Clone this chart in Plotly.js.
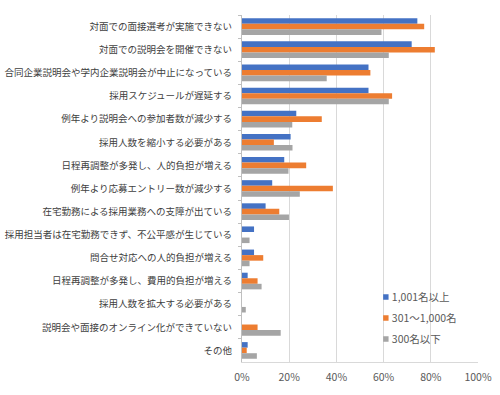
<!DOCTYPE html>
<html><head><meta charset="utf-8">
<script src="https://cdn.plot.ly/plotly-3.0.1.min.js"></script>
<style>html,body{margin:0;padding:0;background:#fff}#c{width:500px;height:395px}</style>
</head><body><div id="c"></div>
<script>
const categories = [
  "対面での面接選考が実施できない",
  "対面での説明会を開催できない",
  "合同企業説明会や学内企業説明会が中止になっている",
  "採用スケジュールが遅延する",
  "例年より説明会への参加者数が減少する",
  "採用人数を縮小する必要がある",
  "日程再調整が多発し、人的負担が増える",
  "例年より応募エントリー数が減少する",
  "在宅勤務による採用業務への支障が出ている",
  "採用担当者は在宅勤務できず、不公平感が生じている",
  "問合せ対応への人的負担が増える",
  "日程再調整が多発し、費用的負担が増える",
  "採用人数を拡大する必要がある",
  "説明会や面接のオンライン化ができていない",
  "その他"
];
const seriesNames = ["1,001名以上", "301～1,000名", "300名以下"];
const large = [74.3, 71.9, 53.6, 53.6, 23.0, 20.6, 17.9, 12.8, 10.0, 5.1, 5.1, 2.4, 0, 0, 2.4];
const mid   = [77.2, 81.7, 54.4, 63.6, 33.8, 13.5, 27.2, 38.5, 15.8, 0, 9.0, 6.6, 0, 6.6, 2.0];
const small = [59.1, 62.2, 35.9, 62.2, 21.3, 21.4, 19.7, 24.5, 19.9, 3.2, 3.2, 8.3, 1.6, 16.4, 6.3];
const colors = ["#4472C4", "#ED7D31", "#A5A5A5"];
const values = [large, mid, small];

const font = "'Noto Sans CJK JP', 'Noto Sans', sans-serif";
const traces = values.map((v, i) => ({
  type: "bar", orientation: "h",
  y: categories, x: v.map(d => d / 100),
  name: seriesNames[i], legendgroup: "g" + i,
  marker: {color: colors[i], line: {width: 0}},
  hoverinfo: "skip"
}));

const layout = {
  width: 500, height: 395,
  margin: {l: 242, r: 21.5, t: 15, b: 33},
  paper_bgcolor: "#fff", plot_bgcolor: "#fff",
  barmode: "group", bargap: 0.28, bargroupgap: 0,
  font: {family: font, color: "#404040"},
  xaxis: {
    range: [0, 1], dtick: 0.2, tickformat: ".0%",
    showgrid: true, gridcolor: "#D9D9D9", gridwidth: 1,
    zeroline: false, showline: true, linecolor: "#D9D9D9", linewidth: 1,
    tickfont: {size: 10.5, color: "#595959", family: font},
    ticks: "", ticklabelstandoff: 5, fixedrange: true
  },
  yaxis: {
    type: "category", autorange: "reversed",
    showgrid: false, zeroline: false,
    showline: true, linecolor: "#BFBFBF", linewidth: 1,
    ticks: "outside", ticklen: 3, tickcolor: "#BFBFBF", tickson: "boundaries",
    ticklabelstandoff: 7,
    tickfont: {size: 9.5, color: "#404040", family: font},
    fixedrange: true
  },
  showlegend: true,
  legend: {
    x: 0.4655, y: 0.229, xanchor: "left", yanchor: "top",
    bgcolor: "rgba(0,0,0,0)",
    font: {size: 10.5, color: "#595959", family: font},
    traceorder: "grouped", tracegroupgap: 2, itemwidth: 30
  }
};
Plotly.newPlot("c", traces, layout, {displayModeBar: false, staticPlot: true}).then(gd => {
  gd.querySelectorAll(".legend .legendpoints").forEach(g => {
    g.setAttribute("transform", "translate(25,0) scale(0.45)");
  });
});
</script></body></html>
